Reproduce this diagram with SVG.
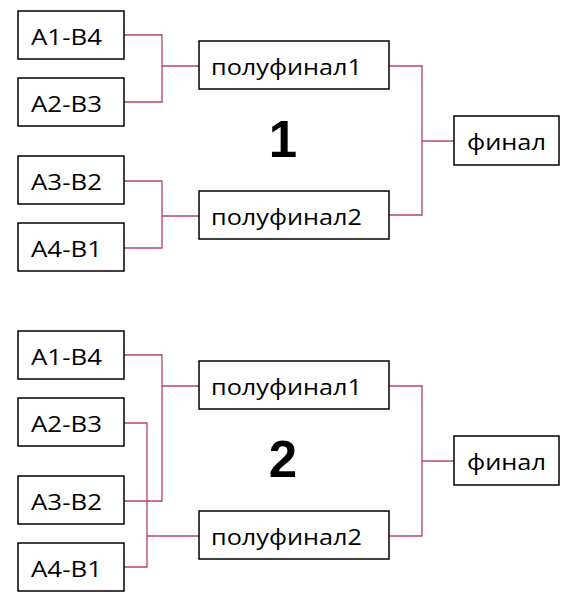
<svg xmlns="http://www.w3.org/2000/svg" width="577" height="600" viewBox="0 0 577 600">
<style>
rect.box{fill:#fff;stroke:#000;stroke-width:1.5}
text.lbl{font-family:"Open Sans","Liberation Sans",sans-serif;font-size:22px;fill:#000}
text.num{font-family:"Liberation Sans",Arial,sans-serif;font-size:51px;font-weight:bold;fill:#000;text-anchor:middle}
.conn path{fill:none;stroke:#b8416a;stroke-width:1.3}
</style>
<rect width="577" height="600" fill="#fff"/>
<g class="conn" id="connectors">
<path d="M124 35H162V102H124M162 66H199"/>
<path d="M124 181H162V248H124M162 216H199"/>
<path d="M389 66H422V215H389M422 141H454"/>
<path d="M124 355H162V501H124M162 386H199"/>
<path d="M124 423H147V567H124M147 536H199"/>
<path d="M389 386H422V536H389M422 461H454"/>
</g>
<g id="t1-a1b4"><rect class="box" x="18" y="11" width="106" height="48"/><text class="lbl" x="31" y="44.5" textLength="71" lengthAdjust="spacingAndGlyphs">A1-B4</text></g>
<g id="t1-a2b3"><rect class="box" x="18" y="78" width="106" height="48"/><text class="lbl" x="31" y="111.5" textLength="71" lengthAdjust="spacingAndGlyphs">A2-B3</text></g>
<g id="t1-a3b2"><rect class="box" x="18" y="156" width="106" height="48"/><text class="lbl" x="31" y="189.5" textLength="71" lengthAdjust="spacingAndGlyphs">A3-B2</text></g>
<g id="t1-a4b1"><rect class="box" x="18" y="223" width="106" height="48"/><text class="lbl" x="31" y="256.5" textLength="71" lengthAdjust="spacingAndGlyphs">A4-B1</text></g>
<g id="t1-sf1"><rect class="box" x="199" y="41" width="190" height="48"/><text class="lbl" x="211" y="74.5" textLength="151" lengthAdjust="spacingAndGlyphs">полуфинал1</text></g>
<g id="t1-sf2"><rect class="box" x="199" y="191" width="190" height="48"/><text class="lbl" x="211" y="224.5" textLength="151" lengthAdjust="spacingAndGlyphs">полуфинал2</text></g>
<g id="t1-final"><rect class="box" x="454" y="116" width="105" height="49"/><text class="lbl" x="467" y="150" textLength="79" lengthAdjust="spacingAndGlyphs">финал</text></g>
<text class="num" x="283" y="157">1</text>
<g id="t2-a1b4"><rect class="box" x="18" y="331" width="106" height="48"/><text class="lbl" x="31" y="364.5" textLength="71" lengthAdjust="spacingAndGlyphs">A1-B4</text></g>
<g id="t2-a2b3"><rect class="box" x="18" y="398" width="106" height="48"/><text class="lbl" x="31" y="431.5" textLength="71" lengthAdjust="spacingAndGlyphs">A2-B3</text></g>
<g id="t2-a3b2"><rect class="box" x="18" y="476" width="106" height="48"/><text class="lbl" x="31" y="509.5" textLength="71" lengthAdjust="spacingAndGlyphs">A3-B2</text></g>
<g id="t2-a4b1"><rect class="box" x="18" y="543" width="106" height="48"/><text class="lbl" x="31" y="576.5" textLength="71" lengthAdjust="spacingAndGlyphs">A4-B1</text></g>
<g id="t2-sf1"><rect class="box" x="199" y="361" width="190" height="48"/><text class="lbl" x="211" y="394.5" textLength="151" lengthAdjust="spacingAndGlyphs">полуфинал1</text></g>
<g id="t2-sf2"><rect class="box" x="199" y="511" width="190" height="48"/><text class="lbl" x="211" y="544.5" textLength="151" lengthAdjust="spacingAndGlyphs">полуфинал2</text></g>
<g id="t2-final"><rect class="box" x="454" y="436" width="105" height="49"/><text class="lbl" x="467" y="470" textLength="79" lengthAdjust="spacingAndGlyphs">финал</text></g>
<text class="num" x="283" y="477">2</text>
</svg>
